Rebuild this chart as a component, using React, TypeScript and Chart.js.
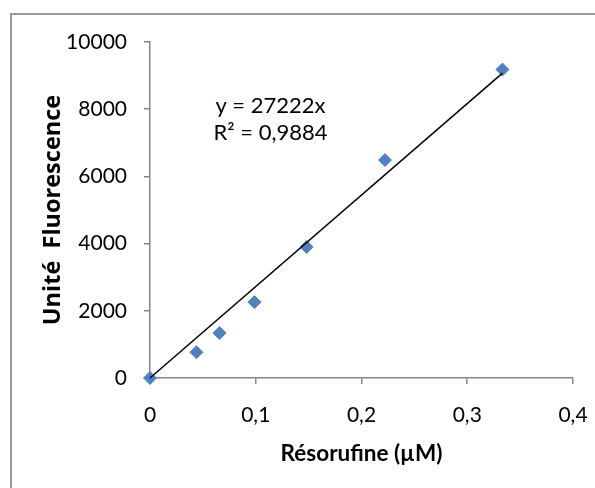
import React, { useEffect, useRef } from "react";
import { Chart, registerables } from "chart.js";

Chart.register(...registerables);

// Data
const concentrations = [0, 0.0439, 0.0658, 0.0988, 0.1481, 0.2222, 0.3333];
const fluorescence = [0, 765, 1337, 2258, 3900, 6486, 9180];
const trendSlope = 27222;
const trendXRange = [0, 0.3333];
const xTicks = [0, 0.1, 0.2, 0.3, 0.4];
const yTicks = [0, 2000, 4000, 6000, 8000, 10000];
const equationLines = ["y = 27222x", "R² = 0,9884"];
const equationAnchorX = 0.1139;
const equationBaselinesY = [7882, 7080];

const FONT = 'Lato, "Open Sans", sans-serif';
const AXIS_GRAY = "#868686";

const equationPlugin = {
  id: "equation",
  afterDatasetsDraw(chart: any) {
    const { ctx, scales } = chart;
    const xs = scales.x;
    const ys = scales.y;
    ctx.save();
    ctx.font = '22px Lato, "Open Sans", sans-serif';
    ctx.fillStyle = "#000";
    ctx.textAlign = "center";
    ctx.textBaseline = "alphabetic";
    equationLines.forEach((t, i) => {
      ctx.fillText(t, xs.getPixelForValue(equationAnchorX), ys.getPixelForValue(equationBaselinesY[i]));
    });
    ctx.restore();
  },
};

export default function App() {
  const ref = useRef<HTMLCanvasElement | null>(null);

  useEffect(() => {
    if (!ref.current) return;
    const points = concentrations.map((x, i) => ({ x, y: fluorescence[i] }));
    const trend = trendXRange.map((x) => ({ x, y: trendSlope * x }));
    const chart = new Chart(ref.current, {
      type: "scatter",
      data: {
        datasets: [
          {
            label: "trend",
            data: trend,
            showLine: true,
            borderColor: "#000",
            borderWidth: 1.5,
            pointRadius: 0,
            pointHoverRadius: 0,
            clip: false,
          },
          {
            label: "Résorufine",
            data: points,
            pointStyle: "rectRot",
            pointRadius: 6.5,
            pointHoverRadius: 6.5,
            backgroundColor: "#4F81BD",
            borderColor: "#4F81BD",
            borderWidth: 1,
            clip: false,
          },
        ],
      },
      options: {
        responsive: false,
        animation: false,
        events: [],
        layout: { padding: { left: 0, right: 22, top: 42, bottom: 0 } },
        plugins: {
          legend: { display: false },
          tooltip: { enabled: false },
        },
        scales: {
          x: {
            type: "linear",
            min: 0,
            max: 0.4,
            afterBuildTicks: (s: any) => {
              s.ticks = xTicks.map((v) => ({ value: v }));
            },
            afterFit: (s: any) => {
              s.height = 110;
              s.paddingLeft = 0;
              s.paddingRight = 0;
            },
            ticks: {
              color: "#000",
              font: { family: FONT, size: 21 },
              padding: 19,
              callback: (v: any) => String(Math.round(Number(v) * 10) / 10).replace(".", ","),
            },
            grid: {
              display: true,
              drawOnChartArea: false,
              drawTicks: true,
              tickLength: 6,
              color: AXIS_GRAY,
              lineWidth: 1.5,
            },
            border: { display: true, color: AXIS_GRAY, width: 1.5 },
            title: {
              display: true,
              text: "Résorufine (µM)",
              color: "#000",
              font: { family: FONT, size: 22.5, weight: "bold" },
              padding: { top: 0, bottom: 21 },
            },
          },
          y: {
            type: "linear",
            min: 0,
            max: 10000,
            afterBuildTicks: (s: any) => {
              s.ticks = yTicks.map((v) => ({ value: v }));
            },
            afterFit: (s: any) => {
              s.width = 150;
              s.paddingTop = 0;
              s.paddingBottom = 0;
            },
            ticks: {
              color: "#000",
              font: { family: FONT, size: 21 },
              padding: 17,
              callback: (v: any) => String(v),
            },
            grid: {
              display: true,
              drawOnChartArea: false,
              drawTicks: true,
              tickLength: 6,
              color: AXIS_GRAY,
              lineWidth: 1.5,
            },
            border: { display: true, color: AXIS_GRAY, width: 1.5 },
            title: {
              display: true,
              text: "Unité  Fluorescence",
              color: "#000",
              font: { family: '"Open Sans", sans-serif', size: 23.5, weight: "bold" },
              padding: { top: 39, bottom: 0 },
            },
          },
        },
      },
      plugins: [equationPlugin],
    } as any);
    return () => chart.destroy();
  }, []);

  return (
    <div
      style={{
        position: "absolute",
        left: 0,
        top: 0,
        width: 595,
        height: 488,
        background: "#fff",
        overflow: "hidden",
      }}
    >
      <div
        style={{
          position: "absolute",
          left: 10,
          top: 13,
          width: 620,
          height: 520,
          borderLeft: "2px solid #999",
          borderTop: "2px solid #999",
        }}
      />
      <canvas
        ref={ref}
        width={595}
        height={488}
        style={{ position: "absolute", left: 0, top: 0, width: 595, height: 488 }}
      />
    </div>
  );
}
